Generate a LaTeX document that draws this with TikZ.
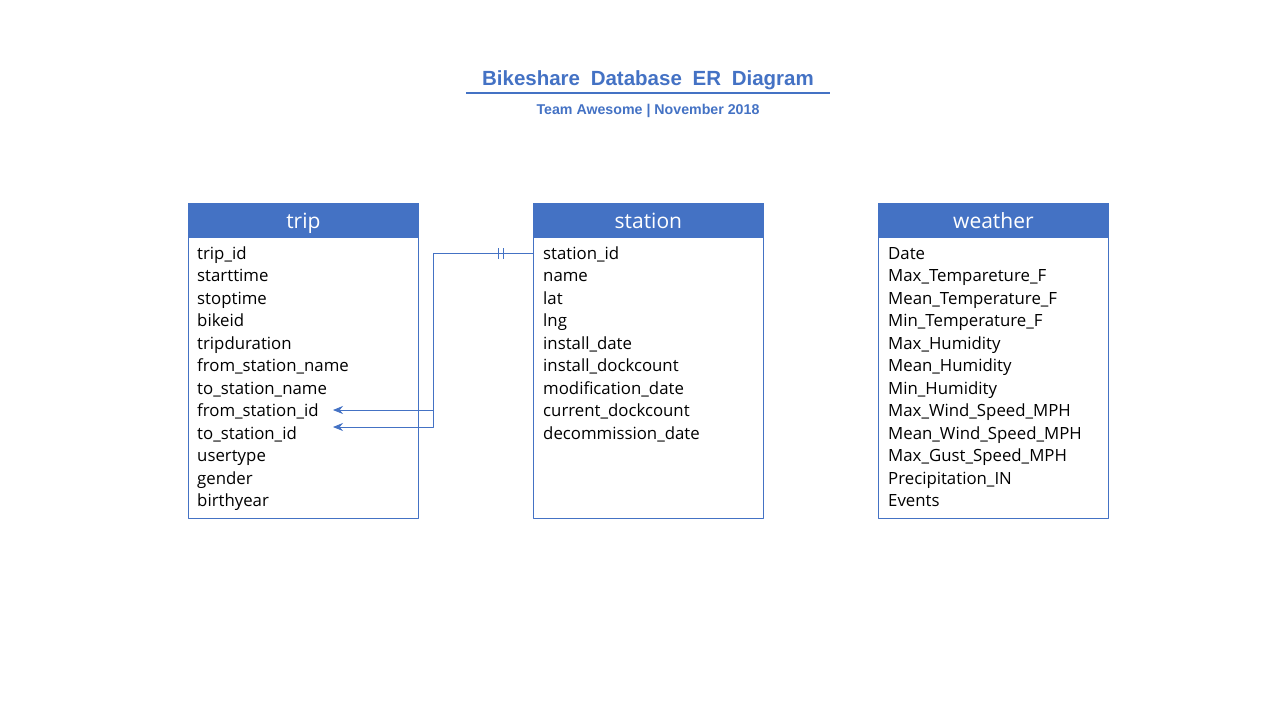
\documentclass[tikz,border=0pt]{standalone}
\usepackage{fontspec}
\setmainfont{Open Sans}
\newfontfamily\titlefont{Liberation Sans}
\usetikzlibrary{arrows.meta,positioning}
\definecolor{erblue}{HTML}{4472C4}
\tikzset{
	tbl/.style={draw=erblue, line width=0.8pt, fill=white, minimum width=230, minimum height=315, anchor=north west, inner sep=0pt},
	hdr/.style={draw=erblue, fill=erblue, text=white, line width=0.8pt, minimum width=230, minimum height=34, anchor=north west, inner sep=0pt, text height=20, text depth=3, font=\fontsize{21}{23}\selectfont},
	fld/.style={anchor=west, inner sep=0pt, text height=11, text depth=4, font=\fontsize{16.8}{19}\selectfont},
	link/.style={draw=erblue, line width=0.8pt},
}
\begin{document}
\begin{tikzpicture}[x=1pt,y=-1pt, >={Stealth[length=10pt,width=8pt]}, line join=round]
	\useasboundingbox (0,0) rectangle (1280,720);
	% title
	\node[font=\titlefont\bfseries\fontsize{20.5}{23}\selectfont, text=erblue] (title) at (648,80) {Bikeshare\ \hspace{5pt}Database\ \hspace{5pt}ER\ \hspace{5pt}Diagram};
	\draw[erblue, line width=1.6pt] (466,93) coordinate (ul1) -- (830,93) coordinate (ul2);
	\node[font=\titlefont\bfseries\fontsize{14.2}{16}\selectfont, text=erblue] (sub) at (648,111) {Team Awesome | November 2018};
	% tables
	\path
	(188,203) coordinate (T)
	(533,203) coordinate (S)
	(878,203) coordinate (W)
	(433,0) coordinate (jn)
	(333,0) coordinate (tip)
	;
	\foreach \c/\n in {T/trip,S/station,W/weather}{
		\node[tbl] (\n) at (\c) {};
		\node[hdr] (\n-h) at (\c) {\n};
	}
	\foreach \f [count=\i] in {trip\_id,starttime,stoptime,bikeid,tripduration,from\_station\_name,to\_station\_name,from\_station\_id,to\_station\_id,usertype,gender,birthyear}
	\node[fld] (trip-\i) at ([xshift=9pt,yshift={-53pt-22.45pt*(\i-1)}]trip.north west) {\f};
	\foreach \f [count=\i] in {station\_id,name,lat,lng,install\_date,install\_dockcount,modification\_date,current\_dockcount,decommission\_date}
	\node[fld] (station-\i) at ([xshift=10pt,yshift={-53pt-22.45pt*(\i-1)}]station.north west) {\f};
	\foreach \f [count=\i] in {Date,Max\_Tempareture\_F,Mean\_Temperature\_F,Min\_Temperature\_F,Max\_Humidity,Mean\_Humidity,Min\_Humidity,Max\_Wind\_Speed\_MPH,Mean\_Wind\_Speed\_MPH,Max\_Gust\_Speed\_MPH,Precipitation\_IN,Events}
	\node[fld] (weather-\i) at ([xshift=10pt,yshift={-53pt-22.45pt*(\i-1)}]weather.north west) {\f};
	% relation
	\path (533,253) coordinate (s1) (333,410) coordinate (a1) (333,427) coordinate (a2);
	\draw[link,->] (s1) -- (s1 -| jn) |- (a1);
	\draw[link,->] (jn |- a1) |- (a2);
	\foreach \x in {498,503}
	\draw[link] (\x,248) -- (\x,259);
\end{tikzpicture}
\end{document}
